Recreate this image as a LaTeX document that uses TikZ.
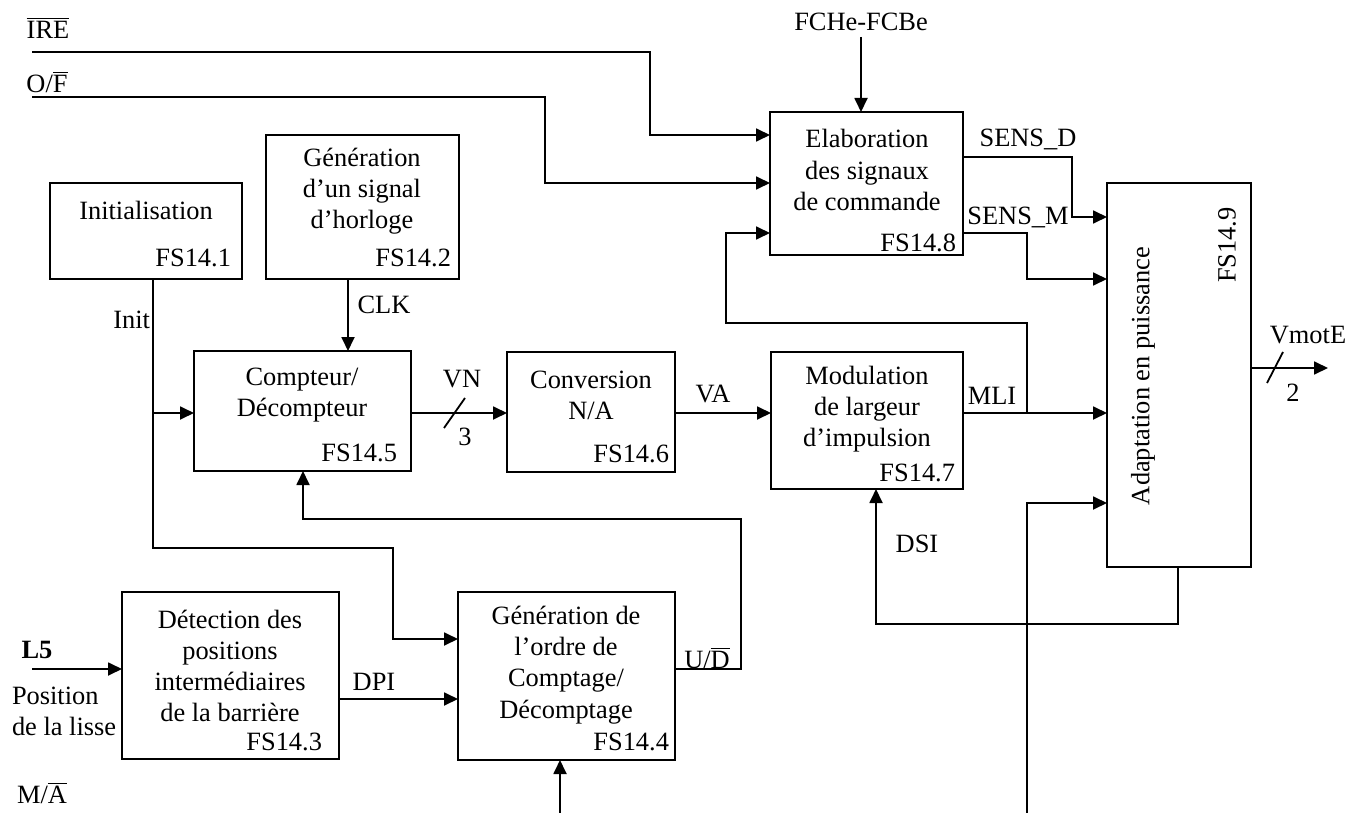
\documentclass[tikz,border=0pt]{standalone}
\usepackage{fontspec}
\setmainfont{Liberation Serif}
\usetikzlibrary{arrows.meta}
\begin{document}
\begin{tikzpicture}[x=0.5pt,y=-0.5pt,
  every node/.style={font=\fontsize{13.2}{15.6}\selectfont, inner sep=0pt, outer sep=0pt},
  blk/.style={draw, line width=0.9pt, anchor=north west, rectangle},
  wire/.style={line width=0.9pt},
  arr/.style={wire, -{Triangle[length=7pt,width=6.5pt]}},
  txt/.style={align=center},
  fs/.style={anchor=east}]
\useasboundingbox (0,0) rectangle (1360,813);

% function blocks
\node[blk, minimum width=96pt,   minimum height=48pt]   (init)  at (50,183)  {};
\node[blk, minimum width=96.5pt, minimum height=72pt]   (horl)  at (266,135) {};
\node[blk, minimum width=108.5pt,minimum height=60pt]   (cpt)   at (194,351) {};
\node[blk, minimum width=84pt,   minimum height=60pt]   (conv)  at (507,352) {};
\node[blk, minimum width=96pt,   minimum height=68.5pt] (mod)   at (771,352) {};
\node[blk, minimum width=96.5pt, minimum height=71.5pt] (elab)  at (770,112) {};
\node[blk, minimum width=72pt,   minimum height=192pt]  (adapt) at (1107,183) {};
\node[blk, minimum width=108.5pt,minimum height=83.5pt] (det)   at (122,592) {};
\node[blk, minimum width=108.5pt,minimum height=84pt]   (gen)   at (458,592) {};

% block texts
\node[txt] (tinit) at (146,210) {Initialisation};
\node[fs]  (finit) at (231,258) {FS14.1};
\node[txt] (thorl) at (362,191) {Génération\\d’un signal\\d’horloge};
\node[fs]  (fhorl) at (451,258) {FS14.2};
\node[txt] (tcpt) at (302,395) {Compteur/\\Décompteur};
\node[fs]  (fcpt) at (397,453) {FS14.5};
\node[txt] (tconv) at (591,395) {Conversion\\N/A};
\node[fs]  (fconv) at (669,454) {FS14.6};
\node[txt] (tmod) at (867,409) {Modulation\\de largeur\\d’impulsion};
\node[fs]  (fmod) at (955,473) {FS14.7};
\node[txt] (telab) at (867,170) {Elaboration\\des signaux\\de commande};
\node[fs]  (felab) at (956,243) {FS14.8};
\node[txt] (tdet) at (230,666) {Détection des\\positions\\intermédiaires\\de la barrière};
\node[fs]  (fdet) at (322,742) {FS14.3};
\node[txt] (tgen) at (566,665) {Génération de\\l’ordre de\\Comptage/\\Décomptage};
\node[fs]  (fgen) at (669,742) {FS14.4};
\node[rotate=90] (tadapt) at (1143,376) {Adaptation en puissance};
\node[rotate=90] (fadapt) at (1227,245) {FS14.9};

% signal names
\node (lire) at (48,28) {$\overline{\mbox{IRE}}$};
\node (lof)  at (47,82) {O/$\overline{\mbox{F}}$};
\node (lfch) at (861,22) {FCHe-FCBe};
\node (lsd)  at (1028,139) {SENS\_D};
\node (lsm)  at (1018,217) {SENS\_M};
\node (lmli) at (992,396) {MLI};
\node (lva)  at (713,394) {VA};
\node (lvn)  at (462,379) {VN};
\node (lvn3) at (465,437) {3};
\node (lclk) at (384,305) {CLK};
\node[anchor=east] (linit) at (150,320) {Init};
\node (lud)  at (707,658) {U/$\overline{\mbox{D}}$};
\node (ldpi) at (374,682) {DPI};
\node (ldsi) at (917,544) {DSI};
\node (ll5)  at (37,650) {\textbf{L5}};
\node[anchor=west, align=left] (lpos) at (12,711) {Position\\de la lisse};
\node (lma)  at (42,793) {M/$\overline{\mbox{A}}$};
\node (lvm)  at (1308,335) {VmotE};
\node (lvm2) at (1293,393) {2};

% free ends and bends
\coordinate (ireS) at (32,52);
\coordinate (ireK) at (650,135);
\coordinate (ofS)  at (32,97);
\coordinate (ofK)  at (545,183);
\coordinate (fchS) at (861,37);
\coordinate (initJ) at (153,413);
\coordinate (l5S)  at (32,669);
\coordinate (genS) at (560,813);
\coordinate (botS) at (1027,813);
\coordinate (mliJ) at (1027,413);
\coordinate (vmE)  at (1328,368);

% connectors
\draw[arr] (ireS) -| (ireK) -- (ireK -| elab.west);
\draw[arr] (ofS) -| (ofK) -- (ofK -| elab.west);
\draw[arr] (fchS) -- (fchS |- elab.north);
\draw[arr] (elab.east |- 0,157) -| (1072,217) -- (adapt.west |- 0,217);
\draw[arr] (elab.east |- 0,233) -| (1027,279) -- (adapt.west |- 0,279);
\draw[arr] (mliJ) |- (726,323) |- (elab.west |- 0,233);
\draw[arr] (mod.east |- 0,413) -- (adapt.west |- 0,413);
\draw[arr] (conv.east |- 0,413) -- (mod.west |- 0,413);
\draw[arr] (cpt.east |- 0,413) -- (conv.west |- 0,413);
\draw[wire] (444,428) -- (465,398);
\draw[arr] (horl.south -| 348,0) -- (cpt.north -| 348,0);
\draw[arr] (init.south -| 153,0) |- (393,548) |- (gen.west |- 0,639);
\draw[arr] (initJ) -- (initJ -| cpt.west);
\draw[arr] (gen.east |- 0,669) -| (741,519) -| (cpt.south -| 303,0);
\draw[arr] (det.east |- 0,699) -- (gen.west |- 0,699);
\draw[arr] (l5S) -- (l5S -| det.west);
\draw[arr] (genS) -- (genS |- gen.south);
\draw[arr] (adapt.south -| 1178,0) |- (876,624) -- (mod.south -| 876,0);
\draw[arr] (botS) |- (adapt.west |- 0,503);
\draw[arr] (adapt.east |- vmE) -- (vmE);
\draw[wire] (1267,383) -- (1283,352);
\end{tikzpicture}
\end{document}
